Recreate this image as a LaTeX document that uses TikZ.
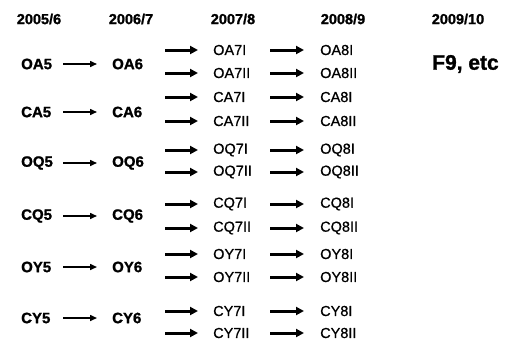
\documentclass[tikz,border=0pt]{standalone}
\usepackage{fontspec}
\setmainfont{Liberation Sans}
\newfontfamily\semib{Liberation Sans}[FakeBold=0.8]
\newfontfamily\heavy{Liberation Sans Bold}[FakeBold=1.2]
\usetikzlibrary{arrows.meta,calc}
\begin{document}
\begin{tikzpicture}[x=1pt,y=-1pt,
  hdr/.style={font=\fontsize{14.5}{15}\heavy, inner sep=0pt},
  lab/.style={font=\fontsize{15}{16}\heavy, anchor=west, inner sep=0pt},
  sub/.style={font=\fontsize{14.5}{15}\semib, anchor=west, inner sep=0pt},
  thinarr/.style={line width=1.5pt, -{Triangle[length=7pt,width=6pt]}},
  thickarr/.style={line width=3pt, -{Triangle[length=8pt,width=8pt]}}]
\useasboundingbox (0,0) rectangle (506,341);
\node[hdr] (h1) at (39,19) {2005/6};
\node[hdr] (h2) at (131,19) {2006/7};
\node[hdr] (h3) at (233,19) {2007/8};
\node[hdr] (h4) at (343,19) {2008/9};
\node[hdr] (h5) at (458,19) {2009/10};
\node[font=\fontsize{21}{22}\heavy, anchor=west, inner sep=0pt] (f9) at (432,64) {F9, etc};
\foreach \n/\ly/\uy/\dy in {OA/64/50/73, CA/112/97/121, OQ/163/150/172, CQ/216/204/228, OY/267/254/277, CY/318/311/333}{
  \node[lab] (\n5) at (21,\ly) {\n5};
  \node[lab] (\n6) at (112,\ly) {\n6};
  \node[sub] (\n7a) at (213,\uy) {\n7I};
  \node[sub] (\n7b) at (213,\dy) {\n7II};
  \node[sub] (\n8a) at (320,\uy) {\n8I};
  \node[sub] (\n8b) at (320,\dy) {\n8II};
  \draw[thinarr] ($(\n6.west)+(-49,0)$) -- ($(\n6.west)+(-15,0)$);
  \draw[thickarr] ($(\n7a.west)+(-48,0)$) -- ($(\n7a.west)+(-15,0)$);
  \draw[thickarr] ($(\n7b.west)+(-48,0)$) -- ($(\n7b.west)+(-15,0)$);
  \draw[thickarr] ($(\n8a.west)+(-50,0)$) -- ($(\n8a.west)+(-16,0)$);
  \draw[thickarr] ($(\n8b.west)+(-50,0)$) -- ($(\n8b.west)+(-16,0)$);
}
\end{tikzpicture}
\end{document}
